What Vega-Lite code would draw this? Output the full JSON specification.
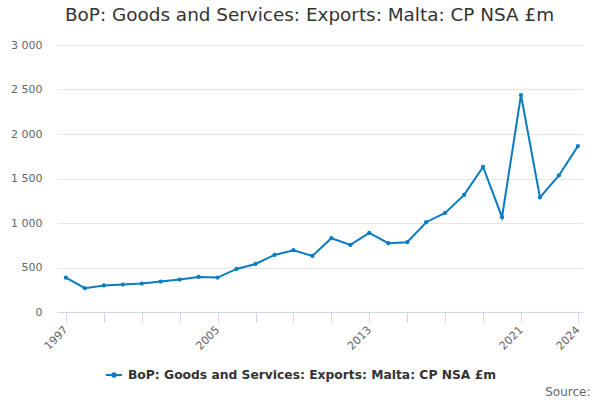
{
  "$schema": "https://vega.github.io/schema/vega-lite/v6.json",
  "autosize": {"type": "none"},
  "padding": {"left": 57, "top": 45, "right": 17, "bottom": 88},
  "width": 526,
  "height": 267,
  "background": "white",
  "title": {
    "text": "BoP: Goods and Services: Exports: Malta: CP NSA £m",
    "anchor": "start",
    "frame": "group",
    "dx": 8,
    "offset": 15,
    "font": "DejaVu Sans",
    "fontSize": 18.4,
    "fontWeight": "normal",
    "color": "#333333"
  },
  "data": {
    "values": [
      {"year": 1997, "value": 385, "series": "BoP: Goods and Services: Exports: Malta: CP NSA £m"},
      {"year": 1998, "value": 268, "series": "BoP: Goods and Services: Exports: Malta: CP NSA £m"},
      {"year": 1999, "value": 298, "series": "BoP: Goods and Services: Exports: Malta: CP NSA £m"},
      {"year": 2000, "value": 308, "series": "BoP: Goods and Services: Exports: Malta: CP NSA £m"},
      {"year": 2001, "value": 319, "series": "BoP: Goods and Services: Exports: Malta: CP NSA £m"},
      {"year": 2002, "value": 342, "series": "BoP: Goods and Services: Exports: Malta: CP NSA £m"},
      {"year": 2003, "value": 364, "series": "BoP: Goods and Services: Exports: Malta: CP NSA £m"},
      {"year": 2004, "value": 394, "series": "BoP: Goods and Services: Exports: Malta: CP NSA £m"},
      {"year": 2005, "value": 387, "series": "BoP: Goods and Services: Exports: Malta: CP NSA £m"},
      {"year": 2006, "value": 484, "series": "BoP: Goods and Services: Exports: Malta: CP NSA £m"},
      {"year": 2007, "value": 540, "series": "BoP: Goods and Services: Exports: Malta: CP NSA £m"},
      {"year": 2008, "value": 641, "series": "BoP: Goods and Services: Exports: Malta: CP NSA £m"},
      {"year": 2009, "value": 694, "series": "BoP: Goods and Services: Exports: Malta: CP NSA £m"},
      {"year": 2010, "value": 630, "series": "BoP: Goods and Services: Exports: Malta: CP NSA £m"},
      {"year": 2011, "value": 829, "series": "BoP: Goods and Services: Exports: Malta: CP NSA £m"},
      {"year": 2012, "value": 754, "series": "BoP: Goods and Services: Exports: Malta: CP NSA £m"},
      {"year": 2013, "value": 889, "series": "BoP: Goods and Services: Exports: Malta: CP NSA £m"},
      {"year": 2014, "value": 773, "series": "BoP: Goods and Services: Exports: Malta: CP NSA £m"},
      {"year": 2015, "value": 784, "series": "BoP: Goods and Services: Exports: Malta: CP NSA £m"},
      {"year": 2016, "value": 1009, "series": "BoP: Goods and Services: Exports: Malta: CP NSA £m"},
      {"year": 2017, "value": 1114, "series": "BoP: Goods and Services: Exports: Malta: CP NSA £m"},
      {"year": 2018, "value": 1316, "series": "BoP: Goods and Services: Exports: Malta: CP NSA £m"},
      {"year": 2019, "value": 1631, "series": "BoP: Goods and Services: Exports: Malta: CP NSA £m"},
      {"year": 2020, "value": 1065, "series": "BoP: Goods and Services: Exports: Malta: CP NSA £m"},
      {"year": 2021, "value": 2438, "series": "BoP: Goods and Services: Exports: Malta: CP NSA £m"},
      {"year": 2022, "value": 1287, "series": "BoP: Goods and Services: Exports: Malta: CP NSA £m"},
      {"year": 2023, "value": 1534, "series": "BoP: Goods and Services: Exports: Malta: CP NSA £m"},
      {"year": 2024, "value": 1864, "series": "BoP: Goods and Services: Exports: Malta: CP NSA £m"}
    ]
  },
  "mark": {
    "type": "line",
    "strokeWidth": 2,
    "point": {"size": 18, "filled": true, "color": "#0a7cc1"}
  },
  "encoding": {
    "x": {
      "field": "year",
      "type": "quantitative",
      "scale": {"domain": [1996.53, 2024.27], "nice": false, "zero": false},
      "axis": {
        "title": "Source:",
        "titleFont": "DejaVu Sans",
        "titleFontSize": 12,
        "titleFontWeight": "normal",
        "titleColor": "#666666",
        "titleAlign": "right",
        "titleBaseline": "alphabetic",
        "titleX": 533,
        "titleY": 83,
        "values": [1997, 1999, 2001, 2003, 2005, 2007, 2009, 2011, 2013, 2015, 2017, 2019, 2021, 2024],
        "labelExpr": "indexof([1997, 2005, 2013, 2021, 2024], datum.value) >= 0 ? format(datum.value, 'd') : ''",
        "labelAngle": -45,
        "labelAlign": "right",
        "labelBaseline": "middle",
        "labelPadding": 6,
        "labelFont": "DejaVu Sans",
        "labelFontSize": 11,
        "labelColor": "#666666",
        "labelOverlap": false,
        "labelFlush": false,
        "domainColor": "#ccd6eb",
        "tickColor": "#ccd6eb",
        "tickSize": 10,
        "grid": false
      }
    },
    "y": {
      "field": "value",
      "type": "quantitative",
      "scale": {"domain": [0, 3000], "nice": false},
      "axis": {
        "title": null,
        "values": [0, 500, 1000, 1500, 2000, 2500, 3000],
        "labelExpr": "replace(format(datum.value, ','), ',', ' ')",
        "labelFont": "DejaVu Sans",
        "labelFontSize": 11,
        "labelColor": "#666666",
        "labelPadding": 15,
        "ticks": false,
        "domain": false,
        "gridColor": "#e6e6e6",
        "gridWidth": 1
      }
    },
    "color": {
      "field": "series",
      "type": "nominal",
      "scale": {"range": ["#0a7cc1"]},
      "legend": {
        "title": null,
        "orient": "none",
        "legendX": 48,
        "legendY": 321,
        "symbolType": "M-1,0L1,0M-0.22,0A0.22,0.22 0 1,0 0.22,0A0.22,0.22 0 1,0 -0.22,0",
        "symbolSize": 256,
        "symbolStrokeWidth": 2,
        "symbolFillColor": "#0a7cc1",
        "symbolStrokeColor": "#0a7cc1",
        "labelFont": "DejaVu Sans",
        "labelFontSize": 12.3,
        "labelFontWeight": "bold",
        "labelColor": "#333333",
        "labelLimit": 500,
        "labelOffset": 5
      }
    }
  },
  "config": {"view": {"stroke": null}}
}
